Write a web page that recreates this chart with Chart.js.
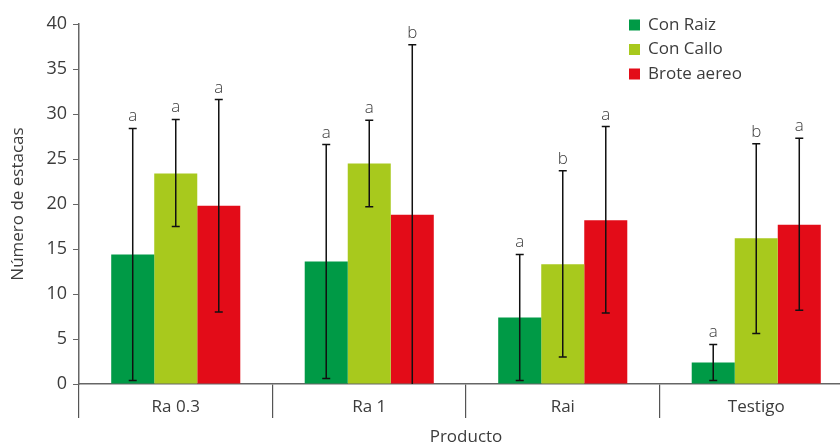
<!DOCTYPE html>
<html lang="es">
<head>
<meta charset="UTF-8">
<title>Número de estacas por producto</title>
<script src="https://cdn.jsdelivr.net/npm/chart.js"></script>
<style>
    html, body { margin: 0; padding: 0; background: #fff; overflow: hidden; }
    #wrap { width: 870px; height: 447px; }
</style>
</head>
<body>
<div id="wrap"><canvas id="chart" width="870" height="447"></canvas></div>
<script>
    // categorias y series
    const categories = ['Ra 0.3', 'Ra 1', 'Rai', 'Testigo'];
    const conRaiz = [14.4, 13.6, 7.4, 2.4];
    const conCallo = [23.4, 24.5, 13.3, 16.2];
    const broteAereo = [19.8, 18.8, 18.2, 17.7];

    // barras de error (minimo / maximo)
    const conRaizLow = [0.4, 0.6, 0.4, 0.4];
    const conRaizHigh = [28.4, 26.6, 14.4, 4.4];
    const conCalloLow = [17.5, 19.7, 3.0, 5.6];
    const conCalloHigh = [29.4, 29.3, 23.7, 26.7];
    const broteLow = [8.0, 0, 7.9, 8.2];
    const broteHigh = [31.6, 37.7, 28.6, 27.3];

    // letras de significancia
    const conRaizLetters = ['a', 'a', 'a', 'a'];
    const conCalloLetters = ['a', 'a', 'b', 'b'];
    const broteLetters = ['a', 'b', 'a', 'a'];

    const yTicks = [0, 5, 10, 15, 20, 25, 30, 35, 40];

    const fontFamily = "'Open Sans', sans-serif";
    const textColor = '#3c3c3c';

    const errors = [
        { low: conRaizLow, high: conRaizHigh, letters: conRaizLetters },
        { low: conCalloLow, high: conCalloHigh, letters: conCalloLetters },
        { low: broteLow, high: broteHigh, letters: broteLetters }
    ];

    const errorBars = {
        id: 'errorBars',
        afterDatasetsDraw(chart) {
            const ctx = chart.ctx;
            const y = chart.scales.y;
            ctx.save();
            ctx.strokeStyle = '#111';
            ctx.lineWidth = 1.5;
            ctx.fillStyle = textColor;
            ctx.font = '300 17px ' + fontFamily;
            ctx.textAlign = 'center';
            ctx.textBaseline = 'alphabetic';
            chart.data.datasets.forEach((ds, i) => {
                const meta = chart.getDatasetMeta(i);
                meta.data.forEach((bar, j) => {
                    const top = y.getPixelForValue(errors[i].high[j]);
                    const bot = y.getPixelForValue(errors[i].low[j]);
                    const x = bar.x;
                    ctx.beginPath();
                    ctx.moveTo(x, top); ctx.lineTo(x, bot);
                    ctx.moveTo(x - 4, top); ctx.lineTo(x + 4, top);
                    if (errors[i].low[j] > 0) {
                        ctx.moveTo(x - 4, bot); ctx.lineTo(x + 4, bot);
                    }
                    ctx.stroke();
                    ctx.fillText(errors[i].letters[j], x, top - 7);
                });
            });
            ctx.restore();
        }
    };

    const sideLegend = {
        id: 'sideLegend',
        afterDraw(chart) {
            const ctx = chart.ctx;
            ctx.save();
            ctx.font = '17px ' + fontFamily;
            ctx.textBaseline = 'middle';
            ctx.textAlign = 'left';
            chart.data.datasets.forEach((ds, i) => {
                const cy = 25 + i * 24.5;
                ctx.fillStyle = ds.backgroundColor;
                ctx.fillRect(629, cy - 5.5, 11, 11);
                ctx.fillStyle = textColor;
                ctx.fillText(ds.label, 648, cy);
            });
            ctx.restore();
        }
    };

    new Chart(document.getElementById('chart'), {
        type: 'bar',
        data: {
            labels: categories,
            datasets: [
                { label: 'Con Raiz', data: conRaiz, backgroundColor: '#009a46' },
                { label: 'Con Callo', data: conCallo, backgroundColor: '#a8c91d' },
                { label: 'Brote aereo', data: broteAereo, backgroundColor: '#e30c18' }
            ]
        },
        options: {
            responsive: false,
            animation: false,
            layout: { padding: { top: 24, right: 17, left: 0, bottom: 0 } },
            datasets: { bar: { categoryPercentage: 0.667, barPercentage: 1.0 } },
            plugins: { legend: { display: false }, tooltip: { enabled: false } },
            scales: {
                x: {
                    grid: { drawOnChartArea: false, drawTicks: true, tickLength: 34, color: '#555', lineWidth: 1.2 },
                    border: { color: '#666', width: 1.5 },
                    ticks: { color: textColor, font: { family: fontFamily, size: 17 }, padding: -21 },
                    title: { display: true, text: 'Producto', color: textColor, font: { family: fontFamily, size: 17 }, padding: { top: 0, bottom: 0 } },
                    afterFit(scale) { scale.height = 63; }
                },
                y: {
                    min: 0, max: 40,
                    afterBuildTicks(scale) { scale.ticks = yTicks.map(v => ({ value: v })); },
                    grid: { drawOnChartArea: false, tickLength: 6, color: '#666' },
                    border: { color: '#666', width: 1.5 },
                    ticks: { color: textColor, font: { family: fontFamily, size: 18 }, padding: 6 },
                    title: { display: true, text: 'Número de estacas', color: textColor, font: { family: fontFamily, size: 17 }, padding: { top: 8, bottom: 4 } },
                    afterFit(scale) { scale.width = 79; }
                }
            }
        },
        plugins: [errorBars, sideLegend]
    });
</script>
</body>
</html>
